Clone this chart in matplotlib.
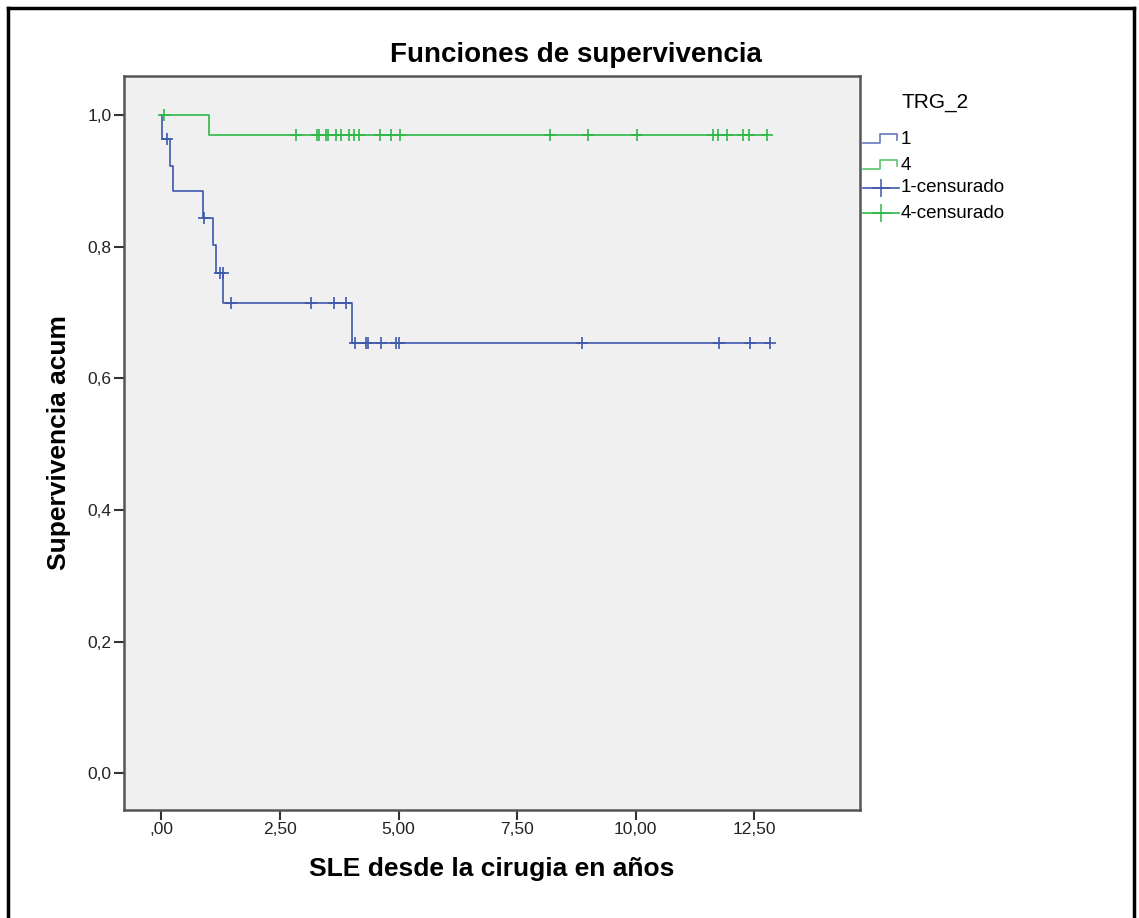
import numpy as np
import matplotlib
matplotlib.use("Agg")
import matplotlib.pyplot as plt
from matplotlib.lines import Line2D

plt.rcParams['font.family'] = ['Liberation Sans', 'DejaVu Sans']

# Kaplan-Meier curves (years, cumulative survival).
blue_event_t = [0.01, 0.19, 0.25, 0.87, 1.09, 1.16, 1.30, 4.02]
blue_event_s = [0.963, 0.923, 0.884, 0.844, 0.802, 0.760, 0.714, 0.654]
blue_cens_t = [0.11, 0.90, 1.23, 1.29, 1.46, 3.15, 3.63, 3.90, 4.08, 4.32,
               4.36, 4.62, 4.94, 5.01, 8.86, 11.75, 12.41, 12.83]

green_event_t = [1.01]
green_event_s = [0.970]
green_cens_t = [0.06, 2.83, 3.27, 3.32, 3.46, 3.51, 3.68, 3.78, 3.95, 4.05,
                4.16, 4.60, 4.84, 5.02, 8.20, 8.99, 10.02, 11.62, 11.74,
                11.92, 12.27, 12.39, 12.76]

x_ticks = [0, 2.5, 5, 7.5, 10, 12.5]
x_labels = [',00', '2,50', '5,00', '7,50', '10,00', '12,50']
y_ticks = [0, 0.2, 0.4, 0.6, 0.8, 1.0]
y_labels = ['0,0', '0,2', '0,4', '0,6', '0,8', '1,0']

BLUE = '#3e58ac'
GREEN = '#2eb848'

W, H = 1139, 918


def fx(px):
    return px / W


def fy(py):
    return 1 - py / H


def km_steps(ev_t, ev_s, cens_t):
    end = max(max(cens_t), max(ev_t))
    t = np.concatenate([[0.0], ev_t, [end]])
    s = np.concatenate([[1.0], ev_s, [ev_s[-1]]])
    return t, s


def level_at(ev_t, ev_s, times):
    lv = np.concatenate([[1.0], ev_s])
    idx = np.searchsorted(np.array(ev_t), np.array(times), side='right')
    return lv[idx]


fig = plt.figure(figsize=(W / 100, H / 100), dpi=100)
ax = fig.add_axes([fx(124), fy(810), (860 - 124) / W, (810 - 76) / H])
ax.set_facecolor('#f0f0f0')

for ev_t, ev_s, cens_t, col in [(blue_event_t, blue_event_s, blue_cens_t, BLUE),
                                (green_event_t, green_event_s, green_cens_t, GREEN)]:
    t, s = km_steps(ev_t, ev_s, cens_t)
    ax.step(t, s, where='post', color=col, lw=1.2)
    ax.plot(cens_t, level_at(ev_t, ev_s, cens_t), ls='none', marker='+',
            ms=9, mew=1.2, color=col)

ax.set_xlim(-0.79, 14.73)
ax.set_ylim(-0.0556, 1.059)
ax.set_xticks(x_ticks)
ax.set_xticklabels(x_labels)
ax.set_yticks(y_ticks)
ax.set_yticklabels(y_labels)
ax.tick_params(direction='out', length=7, width=1.5, color='#333333',
               labelsize=12.5, pad=2, labelcolor='#222222')
for sp in ax.spines.values():
    sp.set_color('#555555')
    sp.set_linewidth(1.8)

ax.set_xlabel('SLE desde la cirugia en años', fontsize=19, fontweight='bold',
              labelpad=14)
ax.set_ylabel('Supervivencia acum', fontsize=19, fontweight='bold', labelpad=12)
fig.text(fx(576), fy(62), 'Funciones de supervivencia', fontsize=20,
         fontweight='bold', ha='center', va='baseline')

# legend drawn by hand, SPSS style
fig.text(fx(902), fy(102), 'TRG_2', fontsize=15, va='center', ha='left')
entries = [('1', BLUE, 'step', 139), ('4', GREEN, 'step', 165),
           ('1-censurado', BLUE, 'cens', 188), ('4-censurado', GREEN, 'cens', 213)]
for label, col, kind, yc in entries:
    if kind == 'step':
        xs = [fx(863), fx(880), fx(880), fx(897), fx(897)]
        ys = [fy(yc + 4), fy(yc + 4), fy(yc - 5), fy(yc - 5), fy(yc + 1)]
        fig.add_artist(Line2D(xs, ys, color=col, lw=1.2, alpha=0.8))
    else:
        fig.add_artist(Line2D([fx(863), fx(899)], [fy(yc), fy(yc)], color=col, lw=1.2))
        fig.add_artist(Line2D([fx(881)], [fy(yc)], marker='+', ms=13, mew=1.1, color=col))
    fig.text(fx(901), fy(yc), label, fontsize=13.5, va='center', ha='left')

# outer frame (open at the bottom)
frame = [([fx(8), fx(8)], [fy(918), fy(8)]),
         ([fx(8), fx(1134)], [fy(8), fy(8)]),
         ([fx(1134), fx(1134)], [fy(8), fy(918)])]
for xs, ys in frame:
    fig.add_artist(Line2D(xs, ys, color='black', lw=2.5))

fig.savefig('out.png', dpi=100)
